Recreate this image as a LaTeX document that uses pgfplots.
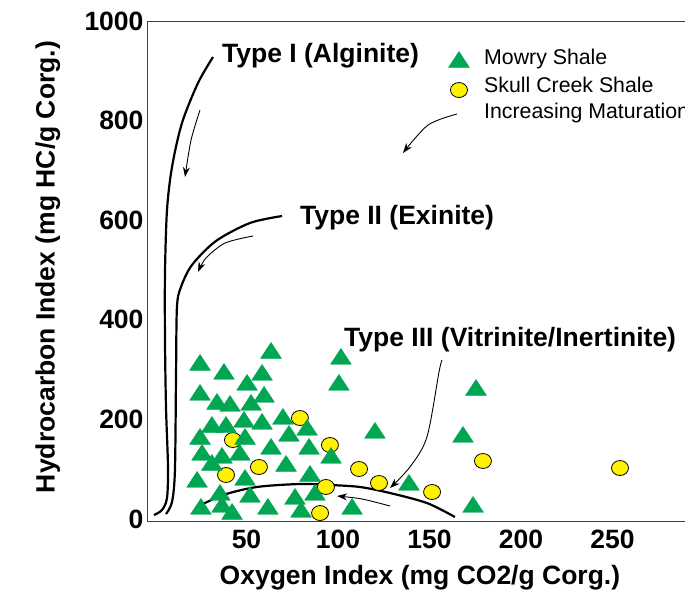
\documentclass[border=0pt]{standalone}
\usepackage{pgfplots}
\pgfplotsset{compat=1.18}
\usepackage{fontspec}
\setmainfont{Liberation Sans}
\usetikzlibrary{arrows.meta}
\definecolor{mgreen}{RGB}{0,166,81}
\definecolor{myellow}{RGB}{255,242,0}
\begin{document}
\begin{tikzpicture}
\begin{axis}[
  scale only axis, width=557pt, height=500pt,
  xmin=-4.37, xmax=300, ymin=-4, ymax=1000,
  xtick={50,100,150,200,250}, ytick={0,200,400,600,800,1000},
  major tick length=0pt,
  /pgf/number format/assume math mode=true,
  /pgf/number format/1000 sep={},
  tick label style={font=\fontsize{26.5}{30}\selectfont\bfseries},
  xticklabel style={yshift=-5pt},
  axis line style={draw=black!75, line width=0.9pt},
  xlabel={Oxygen Index (mg CO2/g Corg.)},
  ylabel={Hydrocarbon Index (mg HC/g Corg.)},
  label style={font=\fontsize{26.5}{30}\selectfont\bfseries},
  xlabel style={at={(axis description cs:0.49,-0.114)}, anchor=center},
  ylabel style={at={(axis description cs:-0.178,0.508)}, anchor=center},
  clip=false,
]
% Skull Creek Shale
\addplot[only marks, mark=*, mark size=8.5pt,
  mark options={fill=myellow, draw=black, line width=0.8pt, xscale=1.0, yscale=0.88}]
coordinates {
(79.2,202.8) (42.6,158.6) (95.6,148.6) (56.8,104.4) (38.8,88.4) (111.5,100.4)
(122.4,72.3) (93.4,64.3) (90.2,12) (151.4,54.2) (179.2,116.5) (254.1,102.4)
};
% Mowry Shale
\addplot[only marks, mark=triangle*, mark size=12pt,
  mark options={fill=mgreen, draw=mgreen, yscale=0.88}]
coordinates {
(24.6,309.2) (37.7,291.2) (63.4,333.3) (58.5,289.2) (50.3,269.1) (101.6,321.3)
(100.5,269.1) (24.6,249) (33.9,230.9) (41.0,226.9) (59.6,245) (52.5,228.9)
(31.1,184.7) (38.8,184.7) (48.6,194.8) (58.5,190.8) (69.9,200.8) (24.6,160.6)
(49.2,160.6) (73.2,166.7) (83.1,178.7) (120.2,172.7) (25.7,128.5) (36.6,122.5)
(46.4,128.5) (63.4,140.6) (84.2,140.6) (96.2,122.5) (31.1,108.4) (71.6,106.4)
(23.0,74.3) (49.2,78.3) (84.7,86.3) (35.5,48.2) (51.9,44.2) (61.7,20.1)
(76.5,40.2) (87.4,48.2) (25.1,20.1) (42.1,10) (79.8,14.1) (107.7,20.1)
(175.4,259) (168.3,164.7) (138.8,68.3) (173.8,24.1) (36.6,24.1)
};
% legend markers
\addplot[only marks, mark=triangle*, mark size=12pt,
  mark options={fill=mgreen, draw=mgreen, yscale=0.88}] coordinates {(166.1,917.6)};
\addplot[only marks, mark=*, mark size=8.5pt,
  mark options={fill=myellow, draw=black, line width=0.8pt, yscale=0.88}] coordinates {(166.1,861.4)};
% Type I curve
\addplot[smooth, line width=2.2pt, black] coordinates {
(31.7,927.7) (23.5,875.5) (14.75,795.2) (9.29,706.8) (6.56,620.5) (5.46,494)
(5.46,359.4) (6.01,224.9) (7.1,104.4) (6.56,42.2) (3.83,18.1) (-0.55,8)
};
% Type II curve
\addplot[smooth, line width=2.2pt, black] coordinates {
(69.4,608.4) (51.9,594.4) (33.3,558.2) (20.2,510) (14.2,465.9) (12.0,425.7)
(11.5,293.2) (10.9,98.4) (9.29,34.1) (6.0,10)
};
% Type III curve
\addplot[smooth, line width=2.2pt, black] coordinates {
(22.95,24.1) (37.2,48.2) (55.7,64.3) (79.2,70.3) (95.6,68.3) (112,64.3)
(128.4,52.2) (148.6,32.1) (163.9,4)
};
% arrows
\addplot[smooth, line width=0.9pt, black, -{Stealth[length=10pt,width=7pt]}] coordinates {
(24.6,821.3) (19.7,761) (16.4,686.7)
};
\addplot[smooth, line width=0.9pt, black, -{Stealth[length=10pt,width=7pt]}] coordinates {
(53.6,568.3) (38.3,554.2) (27.9,524.1) (23.5,496)
};
\addplot[smooth, line width=0.9pt, black, -{Stealth[length=10pt,width=7pt]}] coordinates {
(156.8,319.3) (155.2,295.2) (148.6,164.6) (139.3,104.4) (128.4,62.2)
};
\addplot[smooth, line width=0.9pt, black, -{Stealth[length=10pt,width=7pt]}] coordinates {
(128.4,26.1) (113.1,40.2) (99.5,46.2)
};
\addplot[smooth, line width=0.9pt, black, -{Stealth[length=10pt,width=7pt]}] coordinates {
(165,813.2) (149.2,791.1) (135.5,734.9)
};
% labels
\node[anchor=base west, inner sep=0pt, font=\fontsize{26.5}{30}\selectfont\bfseries] at (axis cs:36.6,916) {Type I (Alginite)};
\node[anchor=base west, inner sep=0pt, font=\fontsize{26.5}{30}\selectfont\bfseries] at (axis cs:79.2,592) {Type II (Exinite)};
\node[anchor=base west, inner sep=0pt, font=\fontsize{26.5}{30}\selectfont\bfseries] at (axis cs:103.3,347) {Type III (Vitrinite/Inertinite)};
\node[anchor=base west, inner sep=0pt, font=\fontsize{21.3}{25}\selectfont] at (axis cs:179.8,912) {Mowry Shale};
\node[anchor=base west, inner sep=0pt, font=\fontsize{21.3}{25}\selectfont] at (axis cs:179.8,857) {Skull Creek Shale};
\node[anchor=base west, inner sep=0pt, font=\fontsize{21.3}{25}\selectfont] at (axis cs:179.8,805) {Increasing Maturation};
\end{axis}
\pgfresetboundingbox
\path[use as bounding box] (-147pt,-74pt) rectangle (538pt,521pt);
\end{tikzpicture}
\end{document}
